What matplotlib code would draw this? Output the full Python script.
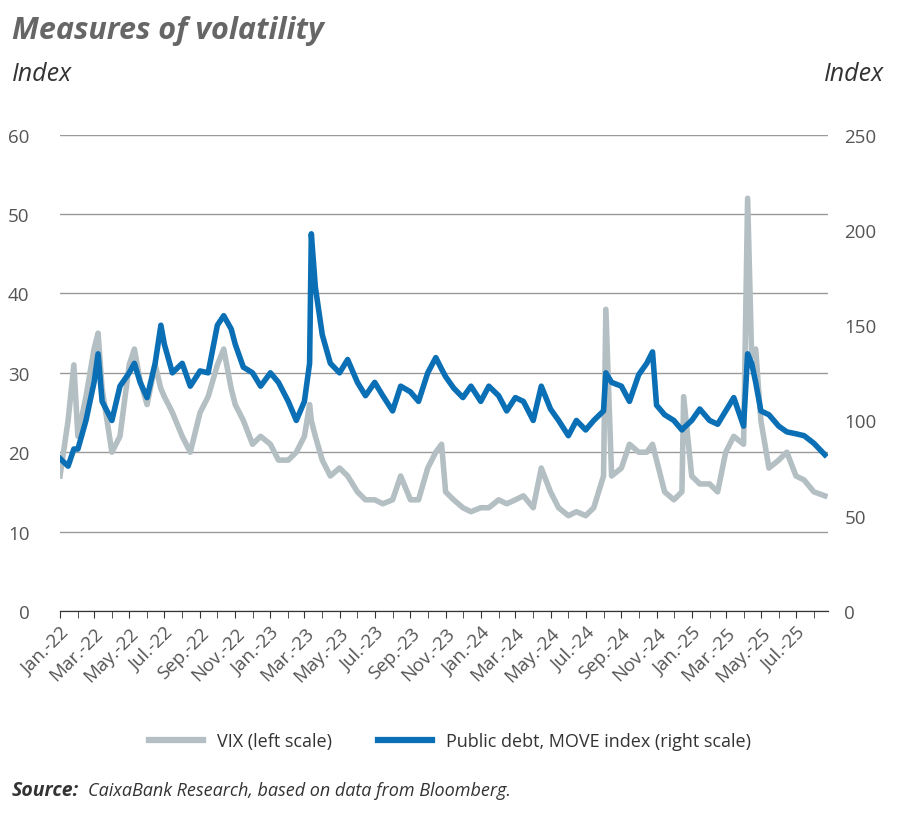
import matplotlib
matplotlib.use("Agg")
import matplotlib.pyplot as plt
import matplotlib.dates as mdates
import pandas as pd
from matplotlib.lines import Line2D

dates = ["2022-01-01","2022-01-15","2022-01-25","2022-02-01","2022-02-15","2022-03-01","2022-03-08","2022-03-15",
"2022-04-01","2022-04-15","2022-05-01","2022-05-10","2022-05-20","2022-06-01","2022-06-15","2022-06-25",
"2022-07-01","2022-07-15","2022-08-01","2022-08-15","2022-09-01","2022-09-15","2022-10-01","2022-10-12",
"2022-10-25","2022-11-01","2022-11-15","2022-12-01","2022-12-15","2023-01-01","2023-01-15","2023-02-01",
"2023-02-15","2023-03-01","2023-03-10","2023-03-13","2023-03-20","2023-04-01","2023-04-15","2023-05-01",
"2023-05-15","2023-06-01","2023-06-15","2023-07-01","2023-07-15","2023-08-01","2023-08-15","2023-09-01",
"2023-09-15","2023-10-01","2023-10-15","2023-10-25","2023-11-01","2023-11-15","2023-12-01","2023-12-15",
"2024-01-01","2024-01-15","2024-02-01","2024-02-15","2024-03-01","2024-03-15","2024-04-01","2024-04-15",
"2024-05-01","2024-05-15","2024-06-01","2024-06-15","2024-07-01","2024-07-15","2024-08-01","2024-08-05",
"2024-08-15","2024-09-01","2024-09-15","2024-10-01","2024-10-15","2024-10-25","2024-11-01","2024-11-15",
"2024-12-01","2024-12-15","2024-12-18","2025-01-01","2025-01-15","2025-02-01","2025-02-15","2025-03-01",
"2025-03-15","2025-04-01","2025-04-08","2025-04-15","2025-04-22","2025-05-01","2025-05-15","2025-06-01",
"2025-06-15","2025-07-01","2025-07-15","2025-08-01","2025-08-20"]

vix = [17,24,31,22,27,33,35,28,20,22,31,33,29,26,31,28,27,25,22,20,25,27,31,33,28,26,24,21,22,21,19,19,20,22,26,24,22,19,17,18,
17,15,14,14,13.5,14,17,14,14,18,20,21,15,14,13,12.5,13,13,14,13.5,14,14.5,13,18,15,13,12,12.5,12,13,17,38,17,18,21,20,20,21,19,15,
14,15,27,17,16,16,15,20,22,21,52,32,33,24,18,19,20,17,16.5,15,14.5]

move = [80,76,85,85,100,120,135,110,100,118,125,130,120,112,130,150,140,125,130,118,126,125,150,155,148,140,128,125,118,125,120,110,
100,110,130,198,170,145,130,125,132,120,113,120,113,105,118,115,110,125,133,127,123,117,112,118,110,118,113,105,112,110,100,118,106,100,
92,100,95,100,105,125,120,118,110,124,130,136,108,103,100,95,96,100,106,100,98,105,112,97,135,130,120,105,103,97,94,93,92,88,82]

tick_labels = ["Jan.-22","Mar.-22","May.-22","Jul.-22","Sep.-22","Nov.-22","Jan.-23","Mar.-23","May.-23","Jul.-23","Sep.-23",
"Nov.-23","Jan.-24","Mar.-24","May.-24","Jul.-24","Sep.-24","Nov.-24","Jan.-25","Mar.-25","May.-25","Jul.-25"]

plt.rcParams['font.family'] = ['Open Sans', 'DejaVu Sans']
grey_txt = "#555555"
d = pd.to_datetime(dates)

fig = plt.figure(figsize=(9, 8.28), dpi=100)
ax = fig.add_axes([0.0667, 0.261, 0.853, 0.575])
ax2 = ax.twinx()

ax.plot(d, vix, color="#b3bfc3", lw=4, solid_joinstyle="round", zorder=2)
ax2.plot(d, move, color="#0a6fb5", lw=4, solid_joinstyle="round", zorder=3)
ax.set_ylim(0, 60)
ax2.set_ylim(0, 250)
ax.set_yticks(range(0, 61, 10))
ax2.set_yticks(range(0, 251, 50))
ax.yaxis.grid(True, color="#999999", lw=1)
ax.set_axisbelow(True)
ax.patch.set_visible(False)
ax2.patch.set_visible(False)

ax.set_xlim(pd.Timestamp("2022-01-01"), pd.Timestamp("2025-08-25"))
ticks = pd.date_range("2022-01-01", "2025-07-01", freq="2MS")
ax.set_xticks(ticks)
ax.set_xticklabels(tick_labels, rotation=45, ha="right", rotation_mode="anchor", color=grey_txt, fontsize=13.5)
ax.xaxis.set_minor_locator(mdates.MonthLocator())
ax.tick_params(axis="x", which="both", length=5, color="#333333", pad=4)
for a in (ax, ax2):
    for s in ("top", "right", "left"):
        a.spines[s].set_visible(False)
    a.spines["bottom"].set_color("#333333")
ax.tick_params(axis="y", length=0, labelsize=13.5, labelcolor=grey_txt, pad=22)
ax2.tick_params(axis="y", length=0, labelsize=13.5, labelcolor=grey_txt, pad=12)

fig.text(0.013, 0.962, "Measures of volatility", fontsize=22, fontweight="bold", style="italic", color="#666666", va="center")
fig.text(0.013, 0.91, "Index", fontsize=18, style="italic", color="#333333", va="center")
fig.text(0.982, 0.91, "Index", fontsize=18, style="italic", color="#333333", va="center", ha="right")

handles = [Line2D([], [], color="#b3bfc3", lw=4.5), Line2D([], [], color="#0a6fb5", lw=4.5)]
fig.legend(handles, ["VIX (left scale)", "Public debt, MOVE index (right scale)"], loc="center",
           bbox_to_anchor=(0.5, 0.104), ncol=2, frameon=False, fontsize=13, handlelength=3.0,
           columnspacing=2.5, labelcolor="#333333")

fig.text(0.013, 0.045, "Source:", fontsize=14, fontweight="bold", style="italic", color="#333333", va="center")
fig.text(0.098, 0.045, "CaixaBank Research, based on data from Bloomberg.", fontsize=13, style="italic", color="#333333", va="center")

fig.savefig("out.png", dpi=100)
